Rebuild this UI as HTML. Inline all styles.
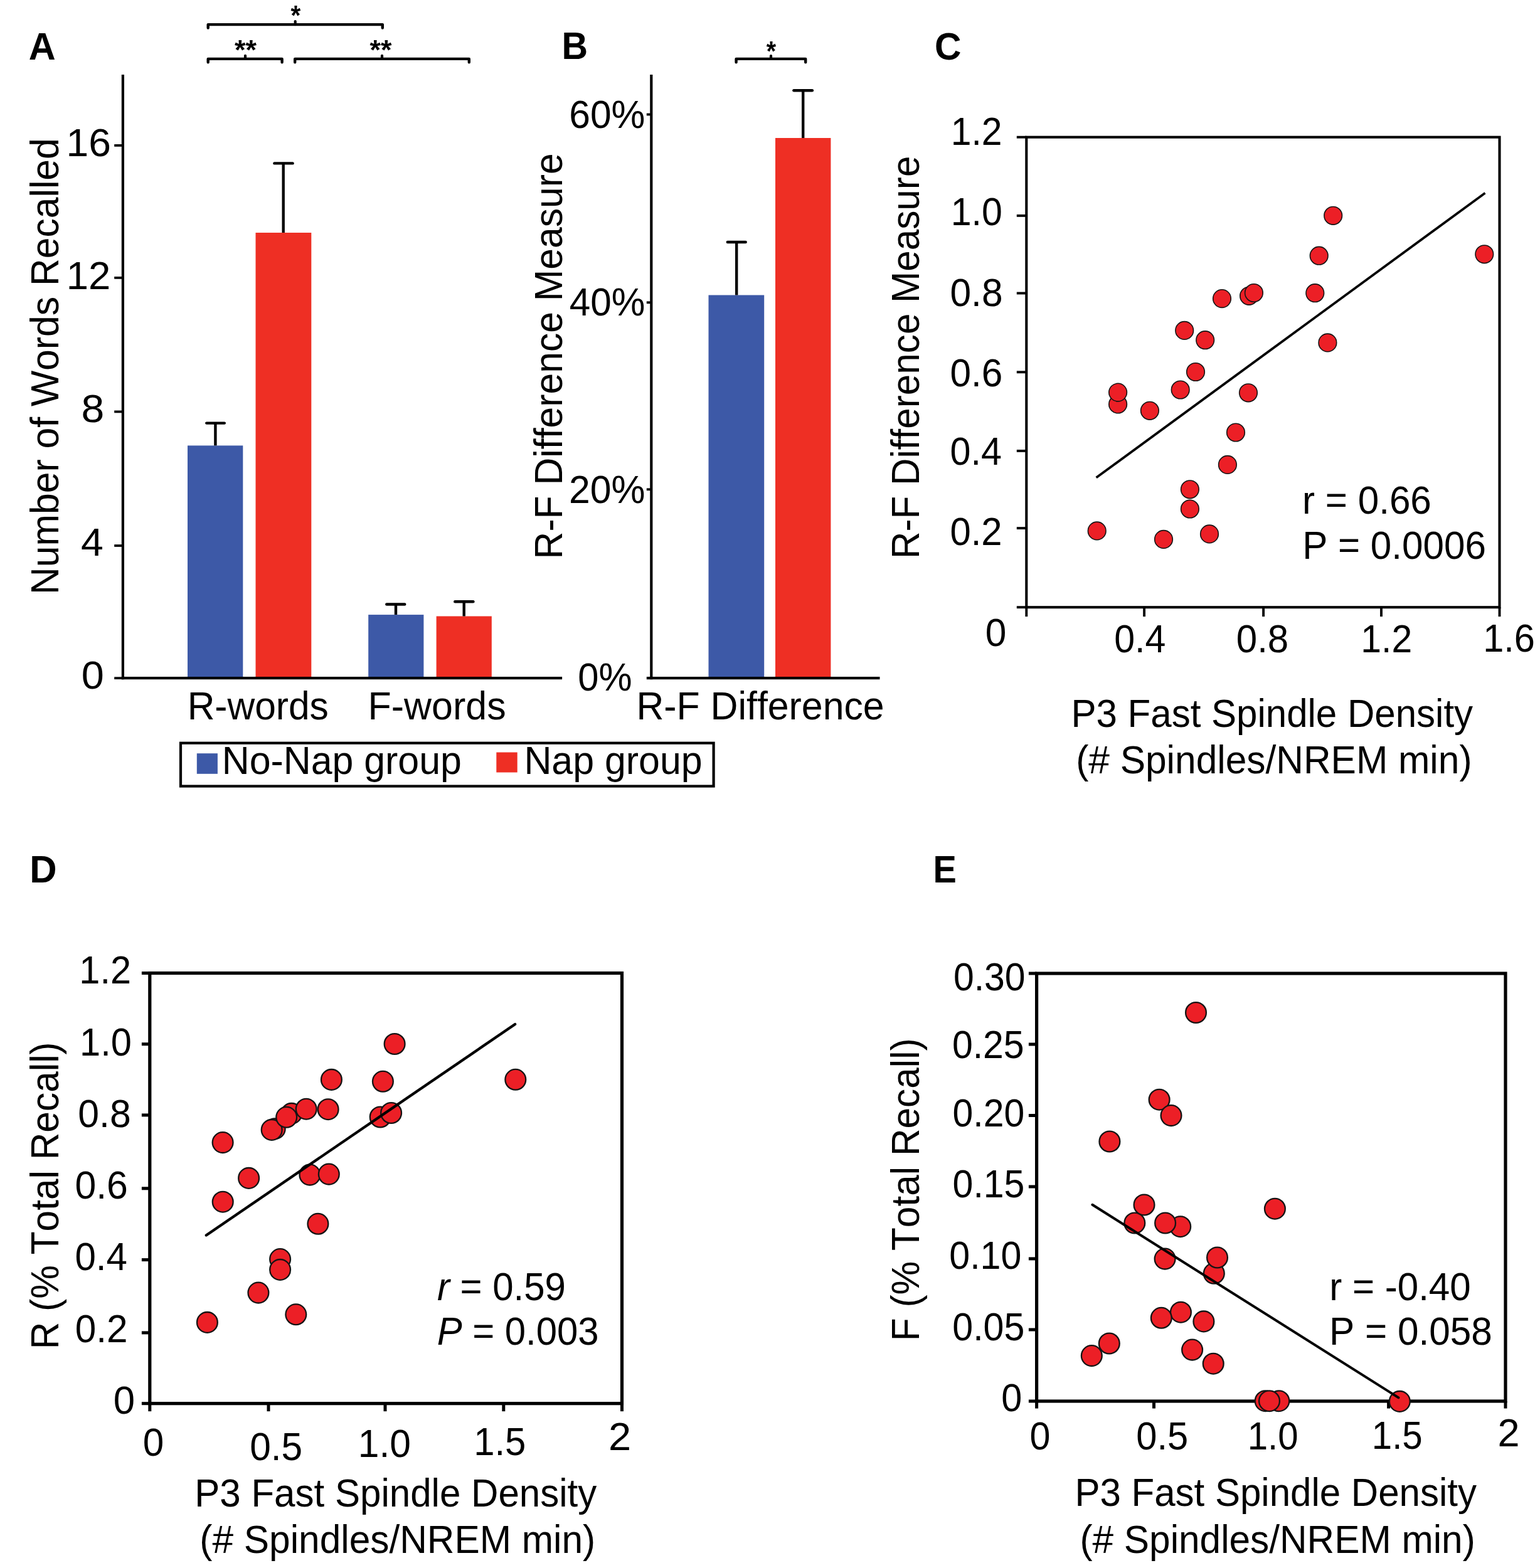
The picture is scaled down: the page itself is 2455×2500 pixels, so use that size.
<!DOCTYPE html>
<html><head><meta charset="utf-8"><title>Figure: Nap group vs No-Nap group recall and spindle density</title>
<style>html,body{margin:0;padding:0;background:#fff;}svg{display:block;}text{font-family:"Liberation Sans", Arial, Helvetica, sans-serif;fill:#000;font-kerning:none;}</style>
</head><body>
<svg xmlns="http://www.w3.org/2000/svg" width="2455" height="2500" viewBox="0 0 2455 2500">
<rect width="2455" height="2500" fill="#fff"/>
<text x="45.82" y="95.00" font-size="60.5" font-weight="bold" textLength="42.95" lengthAdjust="spacingAndGlyphs">A</text>
<path d="M331.70,44.50 V39.10 H609.80 V44.50" fill="none" stroke="#000" stroke-width="4.4" stroke-linejoin="round" stroke-linecap="round"/>
<line x1="470.70" y1="34.00" x2="470.70" y2="39.10" stroke="#000" stroke-width="4.2" stroke-linecap="round"/>
<text x="463.38" y="40.10" font-size="44" font-weight="bold" textLength="15.76" lengthAdjust="spacingAndGlyphs">*</text>
<path d="M331.70,99.30 V93.90 H449.60 V99.30" fill="none" stroke="#000" stroke-width="4.4" stroke-linejoin="round" stroke-linecap="round"/>
<line x1="391.00" y1="88.80" x2="391.00" y2="93.90" stroke="#000" stroke-width="4.2" stroke-linecap="round"/>
<text x="374.07" y="95.40" font-size="44" font-weight="bold" textLength="34.98" lengthAdjust="spacingAndGlyphs">**</text>
<path d="M470.20,99.30 V93.90 H747.80 V99.30" fill="none" stroke="#000" stroke-width="4.4" stroke-linejoin="round" stroke-linecap="round"/>
<line x1="609.00" y1="88.80" x2="609.00" y2="93.90" stroke="#000" stroke-width="4.2" stroke-linecap="round"/>
<text x="589.47" y="95.40" font-size="44" font-weight="bold" textLength="34.88" lengthAdjust="spacingAndGlyphs">**</text>
<rect x="299.00" y="710.40" width="88.30" height="370.60" fill="#3d59a7"/>
<rect x="407.50" y="371.00" width="88.80" height="710.00" fill="#ee2f24"/>
<rect x="587.20" y="980.10" width="88.20" height="100.90" fill="#3d59a7"/>
<rect x="695.60" y="982.50" width="88.20" height="98.50" fill="#ee2f24"/>
<line x1="343.40" y1="674.60" x2="343.40" y2="710.40" stroke="#000" stroke-width="4.4" stroke-linecap="butt"/>
<line x1="329.30" y1="674.60" x2="357.80" y2="674.60" stroke="#000" stroke-width="4.4" stroke-linecap="round"/>
<line x1="451.70" y1="260.40" x2="451.70" y2="371.00" stroke="#000" stroke-width="4.4" stroke-linecap="butt"/>
<line x1="437.40" y1="260.40" x2="466.60" y2="260.40" stroke="#000" stroke-width="4.4" stroke-linecap="round"/>
<line x1="631.00" y1="963.50" x2="631.00" y2="980.10" stroke="#000" stroke-width="4.4" stroke-linecap="butt"/>
<line x1="616.30" y1="963.50" x2="645.20" y2="963.50" stroke="#000" stroke-width="4.4" stroke-linecap="round"/>
<line x1="739.70" y1="959.30" x2="739.70" y2="982.50" stroke="#000" stroke-width="4.4" stroke-linecap="butt"/>
<line x1="725.30" y1="959.30" x2="754.40" y2="959.30" stroke="#000" stroke-width="4.4" stroke-linecap="round"/>
<line x1="195.90" y1="119.00" x2="195.90" y2="1083.20" stroke="#000" stroke-width="4.2" stroke-linecap="butt"/>
<line x1="193.80" y1="1081.20" x2="896.10" y2="1081.20" stroke="#000" stroke-width="4.2" stroke-linecap="butt"/>
<line x1="182.20" y1="231.90" x2="195.90" y2="231.90" stroke="#000" stroke-width="3.8" stroke-linecap="butt"/>
<line x1="182.20" y1="442.90" x2="195.90" y2="442.90" stroke="#000" stroke-width="3.8" stroke-linecap="butt"/>
<line x1="182.20" y1="656.40" x2="195.90" y2="656.40" stroke="#000" stroke-width="3.8" stroke-linecap="butt"/>
<line x1="182.20" y1="870.00" x2="195.90" y2="870.00" stroke="#000" stroke-width="3.8" stroke-linecap="butt"/>
<line x1="182.20" y1="1081.20" x2="195.90" y2="1081.20" stroke="#000" stroke-width="3.8" stroke-linecap="butt"/>
<text x="105.62" y="248.60" font-size="62.8" textLength="71.30" lengthAdjust="spacingAndGlyphs">16</text>
<text x="105.67" y="461.20" font-size="62.8" textLength="70.52" lengthAdjust="spacingAndGlyphs">12</text>
<text x="129.53" y="673.39" font-size="62.8" textLength="36.74" lengthAdjust="spacingAndGlyphs">8</text>
<text x="129.02" y="886.00" font-size="62.8" textLength="35.87" lengthAdjust="spacingAndGlyphs">4</text>
<text x="129.77" y="1098.49" font-size="62.8" textLength="36.07" lengthAdjust="spacingAndGlyphs">0</text>
<text x="298.64" y="1146.90" font-size="62.8" textLength="225.25" lengthAdjust="spacingAndGlyphs">R-words</text>
<text x="586.60" y="1147.00" font-size="62.8" textLength="220.00" lengthAdjust="spacingAndGlyphs">F-words</text>
<text transform="translate(92.70,947.97) rotate(-90)" x="0" y="0" font-size="62.8" textLength="727.78" lengthAdjust="spacingAndGlyphs">Number of Words Recalled</text>
<rect x="288.0" y="1184.7" width="849.6" height="68.8" fill="none" stroke="#000" stroke-width="4.2"/>
<rect x="313.80" y="1201.20" width="33.10" height="32.60" fill="#3d59a7"/>
<rect x="791.30" y="1199.50" width="33.40" height="32.00" fill="#ee2f24"/>
<text x="353.71" y="1234.30" font-size="62.8" textLength="382.15" lengthAdjust="spacingAndGlyphs">No-Nap group</text>
<text x="835.41" y="1234.20" font-size="62.8" textLength="284.25" lengthAdjust="spacingAndGlyphs">Nap group</text>
<text x="895.45" y="93.90" font-size="60.5" font-weight="bold" textLength="41.56" lengthAdjust="spacingAndGlyphs">B</text>
<path d="M1173.60,99.30 V93.90 H1284.20 V99.30" fill="none" stroke="#000" stroke-width="4.4" stroke-linejoin="round" stroke-linecap="round"/>
<line x1="1229.00" y1="89.00" x2="1229.00" y2="93.90" stroke="#000" stroke-width="4.2" stroke-linecap="round"/>
<text x="1221.68" y="96.50" font-size="44" font-weight="bold" textLength="15.35" lengthAdjust="spacingAndGlyphs">*</text>
<rect x="1129.50" y="470.50" width="88.70" height="610.50" fill="#3d59a7"/>
<rect x="1236.00" y="220.00" width="88.40" height="861.00" fill="#ee2f24"/>
<line x1="1174.20" y1="386.00" x2="1174.20" y2="470.50" stroke="#000" stroke-width="4.4" stroke-linecap="butt"/>
<line x1="1159.80" y1="386.00" x2="1188.70" y2="386.00" stroke="#000" stroke-width="4.4" stroke-linecap="round"/>
<line x1="1280.20" y1="144.30" x2="1280.20" y2="220.00" stroke="#000" stroke-width="4.4" stroke-linecap="butt"/>
<line x1="1265.40" y1="144.30" x2="1294.90" y2="144.30" stroke="#000" stroke-width="4.4" stroke-linecap="round"/>
<line x1="1038.30" y1="119.00" x2="1038.30" y2="1083.30" stroke="#000" stroke-width="4.2" stroke-linecap="butt"/>
<line x1="1030.80" y1="1081.20" x2="1402.50" y2="1081.20" stroke="#000" stroke-width="4.2" stroke-linecap="butt"/>
<line x1="1030.80" y1="182.50" x2="1038.30" y2="182.50" stroke="#000" stroke-width="3.8" stroke-linecap="butt"/>
<line x1="1030.80" y1="482.30" x2="1038.30" y2="482.30" stroke="#000" stroke-width="3.8" stroke-linecap="butt"/>
<line x1="1030.80" y1="780.30" x2="1038.30" y2="780.30" stroke="#000" stroke-width="3.8" stroke-linecap="butt"/>
<text x="907.33" y="203.79" font-size="62.8" textLength="121.03" lengthAdjust="spacingAndGlyphs">60%</text>
<text x="907.82" y="502.99" font-size="62.8" textLength="120.53" lengthAdjust="spacingAndGlyphs">40%</text>
<text x="906.95" y="802.19" font-size="62.8" textLength="121.41" lengthAdjust="spacingAndGlyphs">20%</text>
<text x="921.37" y="1101.09" font-size="62.8" textLength="86.26" lengthAdjust="spacingAndGlyphs">0%</text>
<text x="1014.41" y="1147.10" font-size="62.8" textLength="395.29" lengthAdjust="spacingAndGlyphs">R-F Difference</text>
<text transform="translate(896.00,891.38) rotate(-90)" x="0" y="0" font-size="62.8" textLength="647.17" lengthAdjust="spacingAndGlyphs">R-F Difference Measure</text>
<text x="1490.09" y="94.51" font-size="60.5" font-weight="bold" textLength="42.41" lengthAdjust="spacingAndGlyphs">C</text>
<rect x="1636.30" y="218.70" width="754.20" height="749.50" fill="none" stroke="#000" stroke-width="4.1"/>
<line x1="1620.80" y1="218.70" x2="1636.30" y2="218.70" stroke="#000" stroke-width="3.9" stroke-linecap="butt"/>
<line x1="1620.80" y1="343.90" x2="1636.30" y2="343.90" stroke="#000" stroke-width="3.9" stroke-linecap="butt"/>
<line x1="1620.80" y1="467.50" x2="1636.30" y2="467.50" stroke="#000" stroke-width="3.9" stroke-linecap="butt"/>
<line x1="1620.80" y1="593.30" x2="1636.30" y2="593.30" stroke="#000" stroke-width="3.9" stroke-linecap="butt"/>
<line x1="1620.80" y1="718.90" x2="1636.30" y2="718.90" stroke="#000" stroke-width="3.9" stroke-linecap="butt"/>
<line x1="1620.80" y1="842.10" x2="1636.30" y2="842.10" stroke="#000" stroke-width="3.9" stroke-linecap="butt"/>
<line x1="1620.80" y1="968.20" x2="1636.30" y2="968.20" stroke="#000" stroke-width="3.9" stroke-linecap="butt"/>
<line x1="1636.30" y1="968.20" x2="1636.30" y2="983.10" stroke="#000" stroke-width="3.9" stroke-linecap="butt"/>
<line x1="1824.10" y1="968.20" x2="1824.10" y2="983.10" stroke="#000" stroke-width="3.9" stroke-linecap="butt"/>
<line x1="2014.10" y1="968.20" x2="2014.10" y2="983.10" stroke="#000" stroke-width="3.9" stroke-linecap="butt"/>
<line x1="2202.00" y1="968.20" x2="2202.00" y2="983.10" stroke="#000" stroke-width="3.9" stroke-linecap="butt"/>
<line x1="2390.50" y1="968.20" x2="2390.50" y2="983.10" stroke="#000" stroke-width="3.9" stroke-linecap="butt"/>
<circle cx="2125.20" cy="343.80" r="14.30" fill="#ec1f26" stroke="#141414" stroke-width="1.6"/>
<circle cx="2102.70" cy="407.70" r="14.30" fill="#ec1f26" stroke="#141414" stroke-width="1.6"/>
<circle cx="2366.30" cy="405.30" r="14.30" fill="#ec1f26" stroke="#141414" stroke-width="1.6"/>
<circle cx="2096.30" cy="467.20" r="14.30" fill="#ec1f26" stroke="#141414" stroke-width="1.6"/>
<circle cx="1991.10" cy="471.80" r="14.30" fill="#ec1f26" stroke="#141414" stroke-width="1.6"/>
<circle cx="1998.90" cy="467.00" r="14.30" fill="#ec1f26" stroke="#141414" stroke-width="1.6"/>
<circle cx="1948.00" cy="476.10" r="14.30" fill="#ec1f26" stroke="#141414" stroke-width="1.6"/>
<circle cx="1888.20" cy="526.90" r="14.30" fill="#ec1f26" stroke="#141414" stroke-width="1.6"/>
<circle cx="1921.20" cy="542.20" r="14.30" fill="#ec1f26" stroke="#141414" stroke-width="1.6"/>
<circle cx="2116.40" cy="546.40" r="14.30" fill="#ec1f26" stroke="#141414" stroke-width="1.6"/>
<circle cx="1906.00" cy="593.00" r="14.30" fill="#ec1f26" stroke="#141414" stroke-width="1.6"/>
<circle cx="1881.70" cy="621.50" r="14.30" fill="#ec1f26" stroke="#141414" stroke-width="1.6"/>
<circle cx="1990.00" cy="626.30" r="14.30" fill="#ec1f26" stroke="#141414" stroke-width="1.6"/>
<circle cx="1782.10" cy="644.50" r="14.30" fill="#ec1f26" stroke="#141414" stroke-width="1.6"/>
<circle cx="1782.10" cy="625.60" r="14.30" fill="#ec1f26" stroke="#141414" stroke-width="1.6"/>
<circle cx="1832.90" cy="654.80" r="14.30" fill="#ec1f26" stroke="#141414" stroke-width="1.6"/>
<circle cx="1970.00" cy="689.50" r="14.30" fill="#ec1f26" stroke="#141414" stroke-width="1.6"/>
<circle cx="1956.90" cy="740.90" r="14.30" fill="#ec1f26" stroke="#141414" stroke-width="1.6"/>
<circle cx="1896.90" cy="811.50" r="14.30" fill="#ec1f26" stroke="#141414" stroke-width="1.6"/>
<circle cx="1896.90" cy="780.30" r="14.30" fill="#ec1f26" stroke="#141414" stroke-width="1.6"/>
<circle cx="1748.70" cy="846.40" r="14.30" fill="#ec1f26" stroke="#141414" stroke-width="1.6"/>
<circle cx="1855.00" cy="859.90" r="14.30" fill="#ec1f26" stroke="#141414" stroke-width="1.6"/>
<circle cx="1928.00" cy="851.40" r="14.30" fill="#ec1f26" stroke="#141414" stroke-width="1.6"/>
<line x1="1747.60" y1="761.60" x2="2367.50" y2="307.70" stroke="#000" stroke-width="3.7" stroke-linecap="butt"/>
<text x="1515.72" y="231.10" font-size="62.8" textLength="81.85" lengthAdjust="spacingAndGlyphs">1.2</text>
<text x="1515.70" y="359.19" font-size="62.8" textLength="82.22" lengthAdjust="spacingAndGlyphs">1.0</text>
<text x="1514.44" y="487.89" font-size="62.8" textLength="84.09" lengthAdjust="spacingAndGlyphs">0.8</text>
<text x="1514.45" y="616.19" font-size="62.8" textLength="83.80" lengthAdjust="spacingAndGlyphs">0.6</text>
<text x="1514.49" y="741.29" font-size="62.8" textLength="82.35" lengthAdjust="spacingAndGlyphs">0.4</text>
<text x="1514.46" y="869.19" font-size="62.8" textLength="83.14" lengthAdjust="spacingAndGlyphs">0.2</text>
<text x="1570.74" y="1030.39" font-size="62.8" textLength="33.62" lengthAdjust="spacingAndGlyphs">0</text>
<text x="1776.19" y="1040.09" font-size="62.8" textLength="82.14" lengthAdjust="spacingAndGlyphs">0.4</text>
<text x="1970.75" y="1040.09" font-size="62.8" textLength="83.45" lengthAdjust="spacingAndGlyphs">0.8</text>
<text x="2169.32" y="1039.90" font-size="62.8" textLength="81.85" lengthAdjust="spacingAndGlyphs">1.2</text>
<text x="2364.17" y="1038.99" font-size="62.8" textLength="82.75" lengthAdjust="spacingAndGlyphs">1.6</text>
<text x="2076.10" y="819.09" font-size="62.8" textLength="205.74" lengthAdjust="spacingAndGlyphs">r = 0.66</text>
<text x="2076.16" y="891.19" font-size="62.8" textLength="292.78" lengthAdjust="spacingAndGlyphs">P = 0.0006</text>
<text x="1707.48" y="1159.10" font-size="62.8" textLength="640.64" lengthAdjust="spacingAndGlyphs">P3 Fast Spindle Density</text>
<text x="1715.15" y="1233.27" font-size="62.8" textLength="631.40" lengthAdjust="spacingAndGlyphs">(# Spindles/NREM min)</text>
<text transform="translate(1465.20,891.04) rotate(-90)" x="0" y="0" font-size="62.8" textLength="642.41" lengthAdjust="spacingAndGlyphs">R-F Difference Measure</text>
<text x="47.19" y="1407.40" font-size="60.5" font-weight="bold" textLength="43.33" lengthAdjust="spacingAndGlyphs">D</text>
<rect x="238.80" y="1551.50" width="752.70" height="686.20" fill="none" stroke="#000" stroke-width="5.2"/>
<line x1="225.90" y1="1551.50" x2="238.80" y2="1551.50" stroke="#000" stroke-width="5.0" stroke-linecap="butt"/>
<line x1="225.90" y1="1664.70" x2="238.80" y2="1664.70" stroke="#000" stroke-width="5.0" stroke-linecap="butt"/>
<line x1="225.90" y1="1777.90" x2="238.80" y2="1777.90" stroke="#000" stroke-width="5.0" stroke-linecap="butt"/>
<line x1="225.90" y1="1894.80" x2="238.80" y2="1894.80" stroke="#000" stroke-width="5.0" stroke-linecap="butt"/>
<line x1="225.90" y1="2008.60" x2="238.80" y2="2008.60" stroke="#000" stroke-width="5.0" stroke-linecap="butt"/>
<line x1="225.90" y1="2124.90" x2="238.80" y2="2124.90" stroke="#000" stroke-width="5.0" stroke-linecap="butt"/>
<line x1="225.90" y1="2237.70" x2="238.80" y2="2237.70" stroke="#000" stroke-width="5.0" stroke-linecap="butt"/>
<line x1="238.80" y1="2237.70" x2="238.80" y2="2250.20" stroke="#000" stroke-width="5.0" stroke-linecap="butt"/>
<line x1="428.00" y1="2237.70" x2="428.00" y2="2250.20" stroke="#000" stroke-width="5.0" stroke-linecap="butt"/>
<line x1="614.00" y1="2237.70" x2="614.00" y2="2250.20" stroke="#000" stroke-width="5.0" stroke-linecap="butt"/>
<line x1="802.80" y1="2237.70" x2="802.80" y2="2250.20" stroke="#000" stroke-width="5.0" stroke-linecap="butt"/>
<line x1="991.50" y1="2237.70" x2="991.50" y2="2250.20" stroke="#000" stroke-width="5.0" stroke-linecap="butt"/>
<circle cx="438.20" cy="1799.70" r="16.40" fill="#ec1f26" stroke="#141414" stroke-width="2.3"/>
<circle cx="464.70" cy="1775.40" r="16.40" fill="#ec1f26" stroke="#141414" stroke-width="2.3"/>
<circle cx="606.20" cy="1781.00" r="16.40" fill="#ec1f26" stroke="#141414" stroke-width="2.3"/>
<circle cx="446.60" cy="2007.60" r="16.40" fill="#ec1f26" stroke="#141414" stroke-width="2.3"/>
<circle cx="493.90" cy="1873.10" r="16.40" fill="#ec1f26" stroke="#141414" stroke-width="2.3"/>
<circle cx="433.20" cy="1801.40" r="16.40" fill="#ec1f26" stroke="#141414" stroke-width="2.3"/>
<circle cx="456.70" cy="1781.30" r="16.40" fill="#ec1f26" stroke="#141414" stroke-width="2.3"/>
<circle cx="488.20" cy="1768.20" r="16.40" fill="#ec1f26" stroke="#141414" stroke-width="2.3"/>
<circle cx="523.10" cy="1768.70" r="16.40" fill="#ec1f26" stroke="#141414" stroke-width="2.3"/>
<circle cx="528.40" cy="1721.40" r="16.40" fill="#ec1f26" stroke="#141414" stroke-width="2.3"/>
<circle cx="629.10" cy="1664.50" r="16.40" fill="#ec1f26" stroke="#141414" stroke-width="2.3"/>
<circle cx="610.40" cy="1724.30" r="16.40" fill="#ec1f26" stroke="#141414" stroke-width="2.3"/>
<circle cx="623.60" cy="1774.50" r="16.40" fill="#ec1f26" stroke="#141414" stroke-width="2.3"/>
<circle cx="821.80" cy="1721.30" r="16.40" fill="#ec1f26" stroke="#141414" stroke-width="2.3"/>
<circle cx="355.10" cy="1821.60" r="16.40" fill="#ec1f26" stroke="#141414" stroke-width="2.3"/>
<circle cx="396.60" cy="1878.40" r="16.40" fill="#ec1f26" stroke="#141414" stroke-width="2.3"/>
<circle cx="355.20" cy="1916.20" r="16.40" fill="#ec1f26" stroke="#141414" stroke-width="2.3"/>
<circle cx="524.30" cy="1872.10" r="16.40" fill="#ec1f26" stroke="#141414" stroke-width="2.3"/>
<circle cx="506.90" cy="1951.30" r="16.40" fill="#ec1f26" stroke="#141414" stroke-width="2.3"/>
<circle cx="446.60" cy="2024.40" r="16.40" fill="#ec1f26" stroke="#141414" stroke-width="2.3"/>
<circle cx="411.90" cy="2061.10" r="16.40" fill="#ec1f26" stroke="#141414" stroke-width="2.3"/>
<circle cx="471.80" cy="2095.80" r="16.40" fill="#ec1f26" stroke="#141414" stroke-width="2.3"/>
<circle cx="330.40" cy="2108.40" r="16.40" fill="#ec1f26" stroke="#141414" stroke-width="2.3"/>
<line x1="328.80" y1="1969.50" x2="821.10" y2="1633.00" stroke="#000" stroke-width="4.3" stroke-linecap="round"/>
<text x="126.37" y="1567.90" font-size="62.8" textLength="82.73" lengthAdjust="spacingAndGlyphs">1.2</text>
<text x="127.07" y="1682.59" font-size="62.8" textLength="82.76" lengthAdjust="spacingAndGlyphs">1.0</text>
<text x="124.33" y="1796.79" font-size="62.8" textLength="84.41" lengthAdjust="spacingAndGlyphs">0.8</text>
<text x="119.43" y="1911.19" font-size="62.8" textLength="84.44" lengthAdjust="spacingAndGlyphs">0.6</text>
<text x="119.45" y="2025.39" font-size="62.8" textLength="83.51" lengthAdjust="spacingAndGlyphs">0.4</text>
<text x="119.75" y="2140.40" font-size="62.8" textLength="83.79" lengthAdjust="spacingAndGlyphs">0.2</text>
<text x="180.69" y="2254.39" font-size="62.8" textLength="34.32" lengthAdjust="spacingAndGlyphs">0</text>
<text x="227.65" y="2320.69" font-size="62.8" textLength="33.51" lengthAdjust="spacingAndGlyphs">0</text>
<text x="398.14" y="2328.39" font-size="62.8" textLength="84.00" lengthAdjust="spacingAndGlyphs">0.5</text>
<text x="570.79" y="2322.89" font-size="62.8" textLength="84.18" lengthAdjust="spacingAndGlyphs">1.0</text>
<text x="755.14" y="2319.69" font-size="62.8" textLength="83.17" lengthAdjust="spacingAndGlyphs">1.5</text>
<text x="969.93" y="2312.00" font-size="62.8" textLength="36.14" lengthAdjust="spacingAndGlyphs">2</text>
<text x="696.90" y="2072.59" font-size="62.8" textLength="204.93" lengthAdjust="spacingAndGlyphs"><tspan font-style="italic">r</tspan> = 0.59</text>
<text x="696.66" y="2144.39" font-size="62.8" textLength="257.87" lengthAdjust="spacingAndGlyphs"><tspan font-style="italic">P</tspan> = 0.003</text>
<text x="310.27" y="2401.70" font-size="62.8" textLength="641.04" lengthAdjust="spacingAndGlyphs">P3 Fast Spindle Density</text>
<text x="318.36" y="2475.87" font-size="62.8" textLength="630.79" lengthAdjust="spacingAndGlyphs">(# Spindles/NREM min)</text>
<text transform="translate(92.70,2151.36) rotate(-90)" x="0" y="0" font-size="62.8" textLength="490.10" lengthAdjust="spacingAndGlyphs">R (% Total Recall)</text>
<text x="1487.46" y="1407.40" font-size="60.5" font-weight="bold" textLength="37.33" lengthAdjust="spacingAndGlyphs">E</text>
<rect x="1652.60" y="1552.00" width="747.40" height="682.00" fill="none" stroke="#000" stroke-width="5.2"/>
<line x1="1639.90" y1="1552.00" x2="1652.60" y2="1552.00" stroke="#000" stroke-width="5.0" stroke-linecap="butt"/>
<line x1="1639.90" y1="1665.00" x2="1652.60" y2="1665.00" stroke="#000" stroke-width="5.0" stroke-linecap="butt"/>
<line x1="1639.90" y1="1778.50" x2="1652.60" y2="1778.50" stroke="#000" stroke-width="5.0" stroke-linecap="butt"/>
<line x1="1639.90" y1="1892.00" x2="1652.60" y2="1892.00" stroke="#000" stroke-width="5.0" stroke-linecap="butt"/>
<line x1="1639.90" y1="2006.90" x2="1652.60" y2="2006.90" stroke="#000" stroke-width="5.0" stroke-linecap="butt"/>
<line x1="1639.90" y1="2120.00" x2="1652.60" y2="2120.00" stroke="#000" stroke-width="5.0" stroke-linecap="butt"/>
<line x1="1639.90" y1="2234.00" x2="1652.60" y2="2234.00" stroke="#000" stroke-width="5.0" stroke-linecap="butt"/>
<line x1="1652.60" y1="2234.00" x2="1652.60" y2="2245.60" stroke="#000" stroke-width="5.0" stroke-linecap="butt"/>
<line x1="1839.50" y1="2234.00" x2="1839.50" y2="2245.60" stroke="#000" stroke-width="5.0" stroke-linecap="butt"/>
<line x1="2026.00" y1="2234.00" x2="2026.00" y2="2245.60" stroke="#000" stroke-width="5.0" stroke-linecap="butt"/>
<line x1="2213.60" y1="2234.00" x2="2213.60" y2="2245.60" stroke="#000" stroke-width="5.0" stroke-linecap="butt"/>
<line x1="2400.00" y1="2234.00" x2="2400.00" y2="2245.60" stroke="#000" stroke-width="5.0" stroke-linecap="butt"/>
<circle cx="1808.80" cy="1950.00" r="16.40" fill="#ec1f26" stroke="#141414" stroke-width="2.3"/>
<circle cx="1881.70" cy="1955.70" r="16.40" fill="#ec1f26" stroke="#141414" stroke-width="2.3"/>
<circle cx="1935.30" cy="2030.30" r="16.40" fill="#ec1f26" stroke="#141414" stroke-width="2.3"/>
<circle cx="1882.40" cy="2092.20" r="16.40" fill="#ec1f26" stroke="#141414" stroke-width="2.3"/>
<circle cx="1740.30" cy="2161.60" r="16.40" fill="#ec1f26" stroke="#141414" stroke-width="2.3"/>
<circle cx="2017.20" cy="2233.70" r="16.40" fill="#ec1f26" stroke="#141414" stroke-width="2.3"/>
<circle cx="2038.80" cy="2233.70" r="16.40" fill="#ec1f26" stroke="#141414" stroke-width="2.3"/>
<circle cx="1906.50" cy="1614.50" r="16.40" fill="#ec1f26" stroke="#141414" stroke-width="2.3"/>
<circle cx="1848.10" cy="1753.20" r="16.40" fill="#ec1f26" stroke="#141414" stroke-width="2.3"/>
<circle cx="1867.00" cy="1778.60" r="16.40" fill="#ec1f26" stroke="#141414" stroke-width="2.3"/>
<circle cx="1768.90" cy="1820.00" r="16.40" fill="#ec1f26" stroke="#141414" stroke-width="2.3"/>
<circle cx="1824.00" cy="1921.00" r="16.40" fill="#ec1f26" stroke="#141414" stroke-width="2.3"/>
<circle cx="1857.60" cy="1950.00" r="16.40" fill="#ec1f26" stroke="#141414" stroke-width="2.3"/>
<circle cx="2032.40" cy="1927.20" r="16.40" fill="#ec1f26" stroke="#141414" stroke-width="2.3"/>
<circle cx="1857.10" cy="2007.10" r="16.40" fill="#ec1f26" stroke="#141414" stroke-width="2.3"/>
<circle cx="1940.50" cy="2005.00" r="16.40" fill="#ec1f26" stroke="#141414" stroke-width="2.3"/>
<circle cx="1851.30" cy="2101.30" r="16.40" fill="#ec1f26" stroke="#141414" stroke-width="2.3"/>
<circle cx="1918.90" cy="2106.90" r="16.40" fill="#ec1f26" stroke="#141414" stroke-width="2.3"/>
<circle cx="1768.30" cy="2142.00" r="16.40" fill="#ec1f26" stroke="#141414" stroke-width="2.3"/>
<circle cx="1900.60" cy="2152.10" r="16.40" fill="#ec1f26" stroke="#141414" stroke-width="2.3"/>
<circle cx="1934.20" cy="2174.20" r="16.40" fill="#ec1f26" stroke="#141414" stroke-width="2.3"/>
<circle cx="2023.50" cy="2233.70" r="16.40" fill="#ec1f26" stroke="#141414" stroke-width="2.3"/>
<circle cx="2231.30" cy="2234.40" r="16.40" fill="#ec1f26" stroke="#141414" stroke-width="2.3"/>
<line x1="1741.40" y1="1920.80" x2="2229.40" y2="2228.40" stroke="#000" stroke-width="4.0" stroke-linecap="round"/>
<text x="1520.00" y="1578.79" font-size="62.8" textLength="114.60" lengthAdjust="spacingAndGlyphs">0.30</text>
<text x="1517.90" y="1687.39" font-size="62.8" textLength="114.78" lengthAdjust="spacingAndGlyphs">0.25</text>
<text x="1518.60" y="1795.99" font-size="62.8" textLength="114.60" lengthAdjust="spacingAndGlyphs">0.20</text>
<text x="1518.60" y="1909.19" font-size="62.8" textLength="114.78" lengthAdjust="spacingAndGlyphs">0.15</text>
<text x="1513.29" y="2022.99" font-size="62.8" textLength="115.02" lengthAdjust="spacingAndGlyphs">0.10</text>
<text x="1518.29" y="2136.79" font-size="62.8" textLength="115.09" lengthAdjust="spacingAndGlyphs">0.05</text>
<text x="1596.28" y="2250.29" font-size="62.8" textLength="33.04" lengthAdjust="spacingAndGlyphs">0</text>
<text x="1641.49" y="2310.89" font-size="62.8" textLength="32.93" lengthAdjust="spacingAndGlyphs">0</text>
<text x="1811.27" y="2310.69" font-size="62.8" textLength="82.83" lengthAdjust="spacingAndGlyphs">0.5</text>
<text x="1988.77" y="2310.69" font-size="62.8" textLength="80.80" lengthAdjust="spacingAndGlyphs">1.0</text>
<text x="2186.76" y="2310.19" font-size="62.8" textLength="80.98" lengthAdjust="spacingAndGlyphs">1.5</text>
<text x="2387.53" y="2306.10" font-size="62.8" textLength="35.04" lengthAdjust="spacingAndGlyphs">2</text>
<text x="2119.21" y="2072.59" font-size="62.8" textLength="225.54" lengthAdjust="spacingAndGlyphs">r = -0.40</text>
<text x="2119.05" y="2144.39" font-size="62.8" textLength="259.76" lengthAdjust="spacingAndGlyphs">P = 0.058</text>
<text x="1713.48" y="2401.20" font-size="62.8" textLength="640.44" lengthAdjust="spacingAndGlyphs">P3 Fast Spindle Density</text>
<text x="1721.46" y="2475.87" font-size="62.8" textLength="630.28" lengthAdjust="spacingAndGlyphs">(# Spindles/NREM min)</text>
<text transform="translate(1465.00,2138.15) rotate(-90)" x="0" y="0" font-size="62.8" textLength="482.89" lengthAdjust="spacingAndGlyphs">F (% Total Recall)</text>
</svg>
</body></html>
